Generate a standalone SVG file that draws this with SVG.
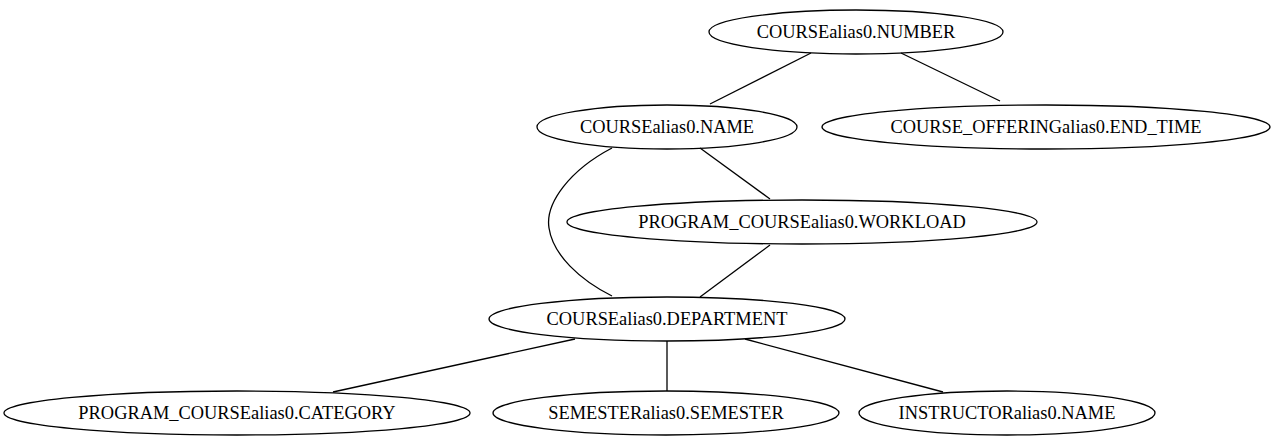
<svg xmlns="http://www.w3.org/2000/svg" width="1276" height="443" viewBox="0 0 1276 443">
<style>
.n ellipse{fill:none;stroke:#000;stroke-width:1.3}
.n text{font-family:"Liberation Serif","Times New Roman",serif;font-size:18.4px;fill:#000;text-anchor:middle}
#edges path{fill:none;stroke:#000;stroke-width:1.3}
</style>
<rect width="1276" height="443" fill="#fff"/>
<g id="edges">
<path d="M811,53 L710,104"/>
<path d="M901,53 L1000,101"/>
<path d="M700,148 L770,199"/>
<path d="M612,148 C570,170 545,203 549,228 C553,255 580,280 612,296"/>
<path d="M770,245 L700,297"/>
<path d="M575,339 L333,392"/>
<path d="M667,341 L667,391"/>
<path d="M745,339 L943,392"/>
</g>
<g id="n1" class="n"><ellipse cx="856" cy="32" rx="147" ry="22"/><text x="856" y="38">COURSEalias0.NUMBER</text></g>
<g id="n2" class="n"><ellipse cx="667" cy="127" rx="130" ry="22"/><text x="667" y="133">COURSEalias0.NAME</text></g>
<g id="n3" class="n"><ellipse cx="1046" cy="127" rx="224" ry="22"/><text x="1046" y="133">COURSE_OFFERINGalias0.END_TIME</text></g>
<g id="n4" class="n"><ellipse cx="802" cy="222" rx="235" ry="22"/><text x="802" y="228">PROGRAM_COURSEalias0.WORKLOAD</text></g>
<g id="n5" class="n"><ellipse cx="667" cy="319" rx="178" ry="22"/><text x="667" y="325">COURSEalias0.DEPARTMENT</text></g>
<g id="n6" class="n"><ellipse cx="237" cy="413" rx="233" ry="22"/><text x="237" y="419">PROGRAM_COURSEalias0.CATEGORY</text></g>
<g id="n7" class="n"><ellipse cx="666" cy="413" rx="173" ry="22"/><text x="666" y="419">SEMESTERalias0.SEMESTER</text></g>
<g id="n8" class="n"><ellipse cx="1007" cy="413" rx="148" ry="22"/><text x="1007" y="419">INSTRUCTORalias0.NAME</text></g>
</svg>
